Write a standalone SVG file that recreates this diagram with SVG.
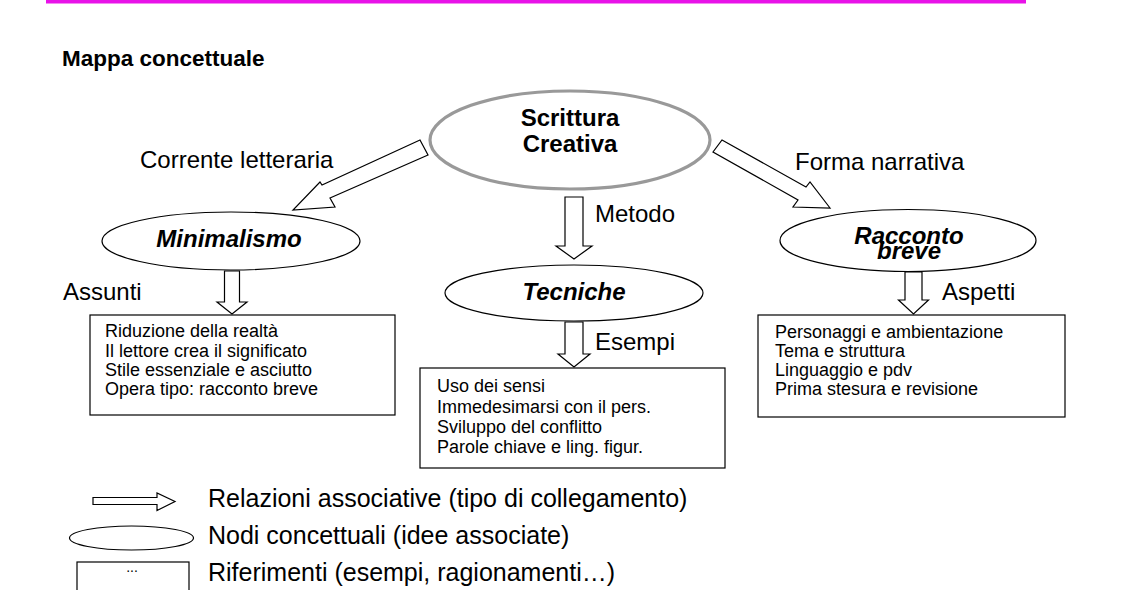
<svg xmlns="http://www.w3.org/2000/svg" width="1123" height="590" viewBox="0 0 1123 590">
<style>
text{font-family:"Liberation Sans",Arial,sans-serif;fill:#000}
.lbl{font-size:24px}
.leg{font-size:25px}
.node{font-size:24px;font-weight:bold;text-anchor:middle}
.it{font-style:italic}
.box{fill:#fff;stroke:#000;stroke-width:1.2}
.bt{font-size:18px}
.arr{fill:#fff;stroke:#000;stroke-width:1.2;stroke-linejoin:miter}
.ell{fill:#fff;stroke:#000;stroke-width:1.2}
</style>
<rect x="0" y="0" width="1123" height="590" fill="#fff"/>
<rect x="46" y="0" width="980" height="3.5" fill="#E812E8"/>
<text x="62" y="66" style="font-size:22.5px;font-weight:bold">Mappa concettuale</text>

<g id="connectors">
<polygon class="arr" points="420,140 322,185 320,182 293,210 335,207 330,198 428,155"/>
<polygon class="arr" points="722,140 806,187 810,182 830,208 793,207 798,200 713,152"/>
<polygon class="arr" points="565,197 583,197 583,246 592,246 574,259 556,246 565,246"/>
<polygon class="arr" points="224.5,271 239.5,271 239.5,302 247,302 232,314 217,302 224.5,302"/>
<polygon class="arr" points="565,322 583,322 583,354 590,354 574,367 558,354 565,354"/>
<polygon class="arr" points="905,272 922,272 922,300 928.5,300 913.5,314 898.5,300 905,300"/>
<text class="lbl" x="140" y="168">Corrente letteraria</text>
<text class="lbl" x="795" y="170">Forma narrativa</text>
<text class="lbl" x="595" y="222">Metodo</text>
<text class="lbl" x="63" y="300">Assunti</text>
<text class="lbl" x="595" y="350">Esempi</text>
<text class="lbl" x="942" y="300">Aspetti</text>
</g>

<g id="scrittura">
<ellipse cx="570" cy="140" rx="140" ry="49" fill="#fff" stroke="#999" stroke-width="3.2"/>
<text class="node" x="570" y="126">Scrittura</text>
<text class="node" x="570" y="152">Creativa</text>
</g>

<g id="minimalismo">
<ellipse class="ell" cx="231" cy="241" rx="129" ry="29"/>
<text class="node it" x="229" y="247">Minimalismo</text>
</g>

<g id="tecniche">
<ellipse class="ell" cx="574" cy="293" rx="129" ry="28"/>
<text class="node it" x="574" y="300">Tecniche</text>
</g>

<g id="racconto">
<ellipse class="ell" cx="908" cy="240.5" rx="128" ry="31"/>
<text class="node it" x="909" y="244">Racconto</text>
<text class="node it" x="909" y="259">breve</text>
</g>

<g id="box-assunti">
<rect class="box" x="90" y="315" width="305" height="100"/>
<text class="bt" x="105" y="337">Riduzione della realtà</text>
<text class="bt" x="105" y="357">Il lettore crea il significato</text>
<text class="bt" x="105" y="376">Stile essenziale e asciutto</text>
<text class="bt" x="105" y="395">Opera tipo: racconto breve</text>
</g>

<g id="box-esempi">
<rect class="box" x="420" y="368" width="305" height="100"/>
<text class="bt" x="437" y="392">Uso dei sensi</text>
<text class="bt" x="437" y="413">Immedesimarsi con il pers.</text>
<text class="bt" x="437" y="433">Sviluppo del conflitto</text>
<text class="bt" x="437" y="453">Parole chiave e ling. figur.</text>
</g>

<g id="box-aspetti">
<rect class="box" x="758" y="315" width="307" height="102"/>
<text class="bt" x="775" y="338">Personaggi e ambientazione</text>
<text class="bt" x="775" y="357">Tema e struttura</text>
<text class="bt" x="775" y="376">Linguaggio e pdv</text>
<text class="bt" x="775" y="395">Prima stesura e revisione</text>
</g>

<g id="legend">
<polygon class="arr" points="93,497.5 157,497.5 157,493 175,501.5 157,510.5 157,504.5 93,504.5"/>
<ellipse class="ell" cx="131.5" cy="538" rx="62" ry="12"/>
<rect class="box" x="77" y="562" width="112" height="40"/>
<text x="132" y="572" style="font-size:14px;text-anchor:middle">...</text>
<text class="leg" x="208" y="507">Relazioni associative (tipo di collegamento)</text>
<text class="leg" x="208" y="544">Nodi concettuali (idee associate)</text>
<text class="leg" x="208" y="581">Riferimenti (esempi, ragionamenti…)</text>
</g>
</svg>
